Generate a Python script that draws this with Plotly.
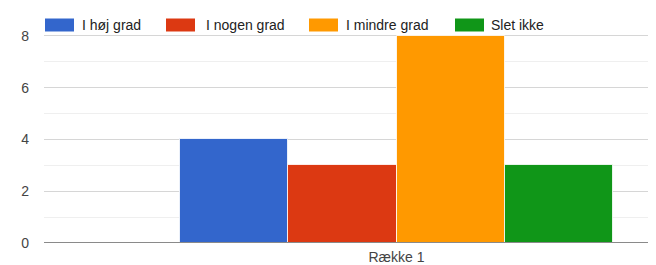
import plotly.graph_objects as go

categories = ["Række 1"]
series_names = ["I høj grad", "I nogen grad", "I mindre grad", "Slet ikke"]
series_values = [[4], [3], [8], [3]]
colors = ["#3366cc", "#dc3912", "#ff9900", "#109618"]
y_ticks = [0, 2, 4, 6, 8]

# page offset (browser default body margin)
OX, OY = 8, 8
PAGE_W, PAGE_H = 656, 265
W, H = PAGE_W - OX, PAGE_H - OY
PLOT_L, PLOT_R, PLOT_T, PLOT_B = 44, 656, 10, 243  # in page pixels
ML = PLOT_L - OX
MR = PAGE_W - PLOT_R
MT = PLOT_T - OY
MB = PAGE_H - PLOT_B
PW = W - ML - MR
PH = H - MT - MB

fig = go.Figure()
for name, vals, col in zip(series_names, series_values, colors):
    fig.add_trace(go.Bar(
        x=categories, y=vals, name=name,
        marker=dict(color=col, line=dict(color="rgba(255,255,255,0.8)", width=1)),
        showlegend=False,
    ))

def px_to_paper_x(px):
    return (px - PLOT_L) / PW

def px_to_paper_y(py):
    return 1 - (py - PLOT_T) / PH

# manual legend (wide swatches like the original)
legend_swatch_x = [45, 166, 309, 455]
legend_text_x = [80, 204, 344, 489]
shapes = []
annotations = []
for name, col, sx, tx in zip(series_names, colors, legend_swatch_x, legend_text_x):
    shapes.append(dict(type="rect", xref="paper", yref="paper",
                       x0=px_to_paper_x(sx), x1=px_to_paper_x(sx + 29),
                       y0=px_to_paper_y(31.5), y1=px_to_paper_y(18.5),
                       fillcolor=col, line=dict(width=0), layer="above"))
    annotations.append(dict(xref="paper", yref="paper",
                            x=px_to_paper_x(tx), y=px_to_paper_y(25),
                            xanchor="left", yanchor="middle", showarrow=False,
                            text=name, font=dict(family="Arial", size=14, color="#222222")))

# baseline above bars
shapes.append(dict(type="line", xref="paper", yref="y", x0=0, x1=1, y0=0, y1=0,
                   line=dict(color="#8a8a8a", width=2), layer="above"))

center_px = 396.5
group_px = 433.0
left = -(center_px - PLOT_L) / group_px
right = (PLOT_R - center_px) / group_px

fig.update_layout(
    width=W, height=H,
    margin=dict(l=ML, r=MR, t=MT, b=MB, pad=0),
    paper_bgcolor="white", plot_bgcolor="white",
    barmode="group", bargap=0, bargroupgap=0,
    font=dict(family="Arial", size=14, color="#444444"),
    shapes=shapes, annotations=annotations,
    xaxis=dict(type="category", range=[left, right], showgrid=False,
               showline=False, ticks="", ticklabelstandoff=4,
               tickfont=dict(family="Arial", size=14, color="#444444")),
    yaxis=dict(range=[0, 9], tickvals=y_ticks, showgrid=True,
               gridcolor="#d6d6d6", gridwidth=1, zeroline=False,
               showline=False, ticks="", ticklabelstandoff=14,
               tickfont=dict(family="Arial", size=14, color="#444444"),
               minor=dict(dtick=1, showgrid=True, gridcolor="#efefef", gridwidth=1)),
)

fig.write_html("out.html")
